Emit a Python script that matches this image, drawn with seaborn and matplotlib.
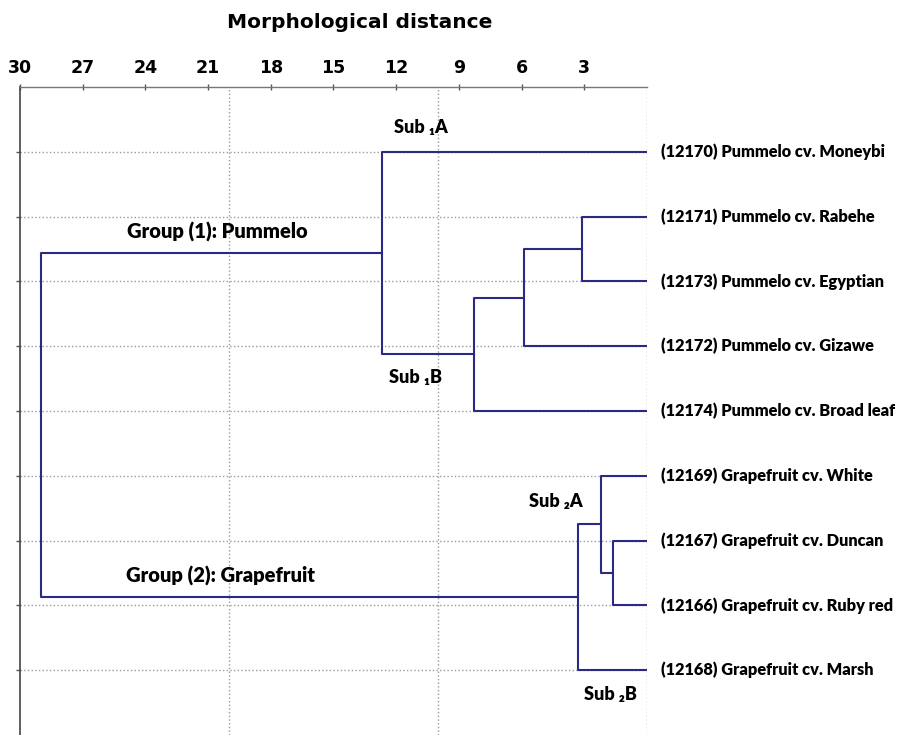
import numpy as np
import pandas as pd
import matplotlib.pyplot as plt
import seaborn as sns

# Leaves, top to bottom
leaf_labels = [
    "(12170) Pummelo cv. Moneybi",
    "(12171) Pummelo cv. Rabehe",
    "(12173) Pummelo cv. Egyptian",
    "(12172) Pummelo cv. Gizawe",
    "(12174) Pummelo cv. Broad leaf",
    "(12169) Grapefruit cv. White",
    "(12167) Grapefruit cv. Duncan",
    "(12166) Grapefruit cv. Ruby red",
    "(12168) Grapefruit cv. Marsh",
]

# Merges: ids < 9 are leaves, 9+k is the cluster made at merge k
merge_left = [1, 9, 10, 0, 6, 5, 14, 12]
merge_right = [2, 3, 4, 11, 7, 13, 8, 15]
merge_dist = [3.1, 5.9, 8.3, 12.7, 1.65, 2.2, 3.3, 29.0]

dist_ticks = [30, 27, 24, 21, 18, 15, 12, 9, 6, 3]

group_notes = ["Group (1): Pummelo", "Group (2): Grapefruit"]
sub_notes = ["Sub \u2081A", "Sub \u2081B", "Sub \u2082A", "Sub \u2082B"]

LINE_COLOR = "#2a2a86"
LABEL_FONT = ["Lato", "DejaVu Sans"]
HEAD_FONT = ["DejaVu Sans"]

# build the elbow segments of the tree
n = len(leaf_labels)
pos = {i: (0.0, i + 1.0) for i in range(n)}
rows = []
for k, (a, b, h) in enumerate(zip(merge_left, merge_right, merge_dist)):
    xa, ya = pos[a]
    xb, yb = pos[b]
    for order, (x, y) in enumerate([(xa, ya), (h, ya), (h, yb), (xb, yb)]):
        rows.append({"seg": k, "order": order, "dist": x, "pos": y})
    pos[n + k] = (h, (ya + yb) / 2)
seg_df = pd.DataFrame(rows)

sns.set_style("white")
plt.rcParams["text.color"] = "black"
plt.rcParams["xtick.color"] = "black"
fig = plt.figure(figsize=(9.03, 7.35), dpi=100)
ax = fig.add_axes([20 / 903, 0.0, 627 / 903, 1 - 87 / 735])

# dotted grid
for gx in [0, 10, 20]:
    ax.axvline(gx, color="#9a9a9a", ls=":", lw=1, zorder=0)
for gy in range(1, n + 1):
    ax.axhline(gy, color="#9a9a9a", ls=":", lw=1, zorder=0)

sns.lineplot(data=seg_df, x="dist", y="pos", units="seg", estimator=None,
             sort=False, color=LINE_COLOR, lw=1.5, ax=ax, legend=False)

ax.set_xlim(30, 0)
ax.set_ylim(10, 0)
ax.xaxis.tick_top()
ax.set_xticks(dist_ticks)
ax.set_xticklabels([str(t) for t in dist_ticks], fontsize=12.5,
                   fontweight="bold", family=HEAD_FONT)
ax.set_yticks(range(1, n + 1))
ax.set_yticklabels([])
ax.tick_params(axis="x", direction="inout", length=4, width=1, pad=5,
               color="#555555", labelcolor="black")
ax.tick_params(axis="y", direction="out", length=3, width=1, color="#555555", left=True)
ax.set_xlabel("")
ax.set_ylabel("")
for side in ["right", "bottom"]:
    ax.spines[side].set_visible(False)
ax.spines["left"].set_color("#444444")
ax.spines["top"].set_color("#777777")
ax.spines["left"].set_linewidth(1.2)
ax.spines["top"].set_linewidth(1.0)

# leaf labels
for i, lab in enumerate(leaf_labels):
    ax.text(-0.67, i + 1, lab, ha="left", va="center", fontsize=11.8,
            fontweight="heavy", family=LABEL_FONT, color="black", clip_on=False)

# cluster notes
ax.text(20.57, 2.23, group_notes[0], ha="center", va="center", fontsize=14.5,
        fontweight="heavy", family=LABEL_FONT, color="black")
ax.text(20.43, 7.54, group_notes[1], ha="center", va="center", fontsize=14.5,
        fontweight="heavy", family=LABEL_FONT, color="black")
for txt, x, y in zip(sub_notes, [10.8, 11.09, 4.34, 1.76], [0.63, 4.48, 6.4, 9.37]):
    ax.text(x, y, txt, ha="center", va="center", fontsize=13,
            fontweight="heavy", family=LABEL_FONT, color="black")

fig.text(360 / 903, 1 - 23 / 735, "Morphological distance", ha="center",
         va="center", fontsize=14.5, fontweight="bold", family=HEAD_FONT,
         color="black")

fig.savefig("out.png", dpi=100)
